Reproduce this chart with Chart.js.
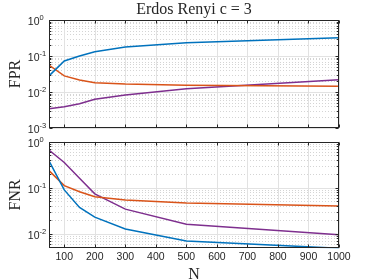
<!DOCTYPE html>
<html>
<head>
<meta charset="utf-8">
<script src="https://cdn.jsdelivr.net/npm/chart.js@4"></script>
<style>
html, body { margin: 0; padding: 0; background: #fff; }
#wrap { position: relative; width: 374px; height: 280px; }
canvas { position: absolute; left: 0; }
#fpr-chart { top: 0; }
#fnr-chart { top: 135px; }
</style>
</head>
<body>
<div id="wrap">
<canvas id="fpr-chart" width="374" height="135"></canvas>
<canvas id="fnr-chart" width="374" height="145"></canvas>
</div>
<script>
const N = [50, 100, 150, 200, 300, 500, 1000];
const xTicks = [100, 200, 300, 400, 500, 600, 700, 800, 900, 1000];

const fprBlue   = [0.028, 0.073, 0.100, 0.132, 0.178, 0.234, 0.32];
const fprOrange = [0.056, 0.028, 0.0216, 0.018, 0.0166, 0.0154, 0.0145];
const fprPurple = [0.0034, 0.0039, 0.0047, 0.0063, 0.0083, 0.0124, 0.022];

const fnrBlue   = [0.378, 0.089, 0.037, 0.0228, 0.0126, 0.0069, 0.0048];
const fnrOrange = [0.233, 0.11, 0.081, 0.063, 0.054, 0.046, 0.040];
const fnrPurple = [0.65, 0.35, 0.16, 0.073, 0.034, 0.016, 0.0095];

const BLUE = '#0072BD', ORANGE = '#D95319', PURPLE = '#7E2F8E';
const AXIS = '#262626';

function series(values, color) {
    return {
        data: N.map((n, i) => ({ x: n, y: values[i] })),
        borderColor: color,
        borderWidth: 1.5,
        pointRadius: 0,
        tension: 0,
        fill: false
    };
}

function hline(ctx, x1, x2, y) {
    ctx.beginPath(); ctx.moveTo(x1, y); ctx.lineTo(x2, y); ctx.stroke();
}
function vline(ctx, x, y1, y2) {
    ctx.beginPath(); ctx.moveTo(x, y1); ctx.lineTo(x, y2); ctx.stroke();
}

function decadesIn(scale) {
    const out = [];
    for (let e = -4; e <= 0; e++) {
        const v = Math.pow(10, e);
        if (v >= scale.min * 0.999 && v <= scale.max * 1.001) out.push(e);
    }
    return out;
}

const matlabAxes = {
    id: 'matlabAxes',
    beforeDatasetsDraw(chart, args, opts) {
        const { ctx, chartArea: a, scales: { x, y } } = chart;
        ctx.save();
        ctx.lineWidth = 1;
        // minor grid (dotted)
        ctx.strokeStyle = '#d4d4d4';
        ctx.setLineDash([1, 2]);
        for (let e = -4; e < 0; e++) {
            for (let m = 2; m <= 9; m++) {
                const v = m * Math.pow(10, e);
                if (v < y.min || v > y.max) continue;
                hline(ctx, a.left, a.right, Math.round(y.getPixelForValue(v)) + 0.5);
            }
        }
        ctx.setLineDash([]);
        // major grid
        ctx.strokeStyle = '#e2e2e2';
        xTicks.forEach(t => vline(ctx, Math.round(x.getPixelForValue(t)) + 0.5, a.top, a.bottom));
        decadesIn(y).forEach(e => hline(ctx, a.left, a.right, Math.round(y.getPixelForValue(Math.pow(10, e))) + 0.5));
        ctx.restore();
    },
    afterDatasetsDraw(chart, args, opts) {
        const { ctx, chartArea: a, scales: { x, y } } = chart;
        ctx.save();
        ctx.strokeStyle = AXIS;
        ctx.lineWidth = 1;
        const L = Math.round(a.left) + 0.5, R = Math.round(a.right) - 0.5;
        const T = Math.round(a.top) + 0.5, B = Math.round(a.bottom) - 0.5;
        ctx.strokeRect(L, T, R - L, B - T);
        // x ticks, inward on top and bottom
        xTicks.forEach(t => {
            const px = Math.round(x.getPixelForValue(t)) + 0.5;
            vline(ctx, px, B, B - 3);
            vline(ctx, px, T, T + 3);
        });
        // y ticks, major and minor
        for (let e = -4; e <= 0; e++) {
            for (let m = 1; m <= 9; m++) {
                const v = m * Math.pow(10, e);
                if (v < y.min * 0.999 || v > y.max * 1.001) continue;
                const py = Math.round(y.getPixelForValue(v)) + 0.5;
                const len = m === 1 ? 3 : 1.8;
                hline(ctx, L, L + len, py);
                hline(ctx, R, R - len, py);
            }
        }
        // y tick labels 10^e
        ctx.fillStyle = AXIS;
        ctx.textBaseline = 'middle';
        decadesIn(y).forEach(e => {
            const py = y.getPixelForValue(Math.pow(10, e));
            ctx.font = '10.5px "Liberation Sans", Arial, sans-serif';
            ctx.textAlign = 'right';
            ctx.fillText('10', 39.5, py + 2.5);
            ctx.font = '7.5px "Liberation Sans", Arial, sans-serif';
            ctx.textAlign = 'left';
            ctx.fillText(e === 0 ? '0' : String(e), 39.5, py - 2);
        });
        // y axis title
        ctx.font = '16px "Liberation Serif", "Times New Roman", serif';
        ctx.textAlign = 'center';
        ctx.textBaseline = 'middle';
        ctx.save();
        ctx.translate(16, (a.top + a.bottom) / 2);
        ctx.rotate(-Math.PI / 2);
        ctx.fillText(opts.yTitle, 0, 0);
        ctx.restore();
        if (opts.title) {
            ctx.textBaseline = 'alphabetic';
            ctx.fillText(opts.title, (a.left + a.right) / 2, 14);
        }
        if (opts.xTitle) {
            ctx.textBaseline = 'alphabetic';
            ctx.fillText(opts.xTitle, (a.left + a.right) / 2, chart.height - 1);
        }
        ctx.restore();
    }
};

function makeChart(canvasId, datasets, yMin, extra) {
    return new Chart(document.getElementById(canvasId), {
        type: 'line',
        data: { datasets: datasets },
        options: {
            responsive: false,
            animation: false,
            events: [],
            layout: { padding: extra.padding },
            scales: {
                x: {
                    type: 'linear',
                    min: 50,
                    max: 1000,
                    display: extra.showX,
                    afterBuildTicks: scale => { scale.ticks = xTicks.map(v => ({ value: v })); },
                    afterFit: scale => { scale.height = extra.xHeight; },
                    grid: { display: false, drawTicks: false },
                    border: { display: false },
                    ticks: {
                        autoSkip: false,
                        maxRotation: 0,
                        padding: 3,
                        color: AXIS,
                        callback: v => String(v),
                        font: { family: '"Liberation Sans", Arial, sans-serif', size: 10.5 }
                    }
                },
                y: {
                    type: 'logarithmic',
                    min: yMin,
                    max: 1,
                    display: false
                }
            },
            plugins: {
                legend: { display: false },
                tooltip: { enabled: false },
                matlabAxes: extra.axes
            }
        },
        plugins: [matlabAxes]
    });
}

makeChart('fpr-chart', [
    series(fprBlue, BLUE),
    series(fprOrange, ORANGE),
    series(fprPurple, PURPLE)
], 0.001, {
    padding: { left: 49, right: 35, top: 20, bottom: 7 },
    showX: false,
    xHeight: 0,
    axes: { yTitle: 'FPR', title: 'Erdos Renyi c = 3' }
});

makeChart('fnr-chart', [
    series(fnrBlue, BLUE),
    series(fnrOrange, ORANGE),
    series(fnrPurple, PURPLE)
], 0.0048, {
    padding: { left: 49, right: 35, top: 6.5, bottom: 0 },
    showX: true,
    xHeight: 31.7,
    axes: { yTitle: 'FNR', xTitle: 'N' }
});
</script>
</body>
</html>
